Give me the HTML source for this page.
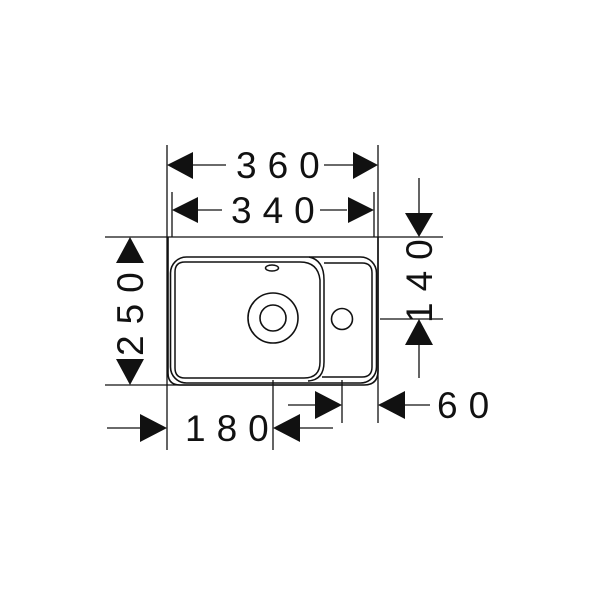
<!DOCTYPE html>
<html><head><meta charset="utf-8"><style>
html,body{margin:0;padding:0;background:#fff;}
svg{display:block;}
text{font-family:"Liberation Sans",sans-serif;font-size:37px;fill:#111;letter-spacing:11px;}
</style></head><body>
<svg width="600" height="600" viewBox="0 0 600 600" xmlns="http://www.w3.org/2000/svg">
<g stroke="#111" stroke-width="1.3" fill="none">
<!-- extension lines -->
<line x1="167" y1="145" x2="167" y2="450"/>
<line x1="172" y1="192" x2="172" y2="237"/>
<line x1="378" y1="145" x2="378" y2="423"/>
<line x1="374" y1="192" x2="374" y2="237"/>
<line x1="105" y1="237" x2="443" y2="237"/>
<line x1="105" y1="385" x2="343" y2="385"/>
<line x1="380" y1="319" x2="443" y2="319"/>
<line x1="273" y1="380" x2="273" y2="450"/>
<line x1="342" y1="380" x2="342" y2="423"/>
<!-- dim lines -->
<line x1="193" y1="165" x2="226" y2="165"/>
<line x1="324" y1="165" x2="353" y2="165"/>
<line x1="198" y1="210" x2="222" y2="210"/>
<line x1="320" y1="210" x2="347" y2="210"/>
<line x1="419" y1="178" x2="419" y2="213"/>
<line x1="419" y1="345" x2="419" y2="378"/>
<line x1="107" y1="428" x2="140" y2="428"/>
<line x1="300" y1="428" x2="333" y2="428"/>
<line x1="288" y1="405" x2="315" y2="405"/>
<line x1="405" y1="405" x2="430" y2="405"/>
<!-- sink body -->
<path d="M168,237 V373 Q168,385 180,385 H364 Q378,385 378,371 V237" stroke-width="1.6"/>
<rect x="170.5" y="257" width="206" height="126" rx="16" stroke-width="1.6"/>
<path d="M185,262 H300 Q318,262 320,280 V362 Q320,378 304,378 H185 Q175,378 175,368 V272 Q175,262 185,262 Z" stroke-width="1.5"/>
<path d="M309,257 Q324,260 324,280 V362 Q324,380 308,381" stroke-width="1.5"/>
<path d="M324,263 H362 Q372,263 372,273 V367 Q372,377 362,377 H322" stroke-width="1.5"/>
<circle cx="273" cy="318" r="25" stroke-width="1.6"/>
<circle cx="273" cy="318" r="13" stroke-width="1.6"/>
<circle cx="342" cy="319" r="10.5" stroke-width="1.6"/>
<ellipse cx="272" cy="268" rx="6.5" ry="3" stroke-width="1.5"/>
</g>
<g fill="#111">
<polygon points="167,165 193,152 193,179"/>
<polygon points="378,165 353,152 353,179"/>
<polygon points="172,210 198,197 198,223"/>
<polygon points="374,210 348,197 348,223"/>
<polygon points="130,237 116,263 144,263"/>
<polygon points="130,385 116,359 144,359"/>
<polygon points="419,237 405,213 433,213"/>
<polygon points="419,319 405,345 433,345"/>
<polygon points="167,428 140,414 140,442"/>
<polygon points="273,428 300,414 300,442"/>
<polygon points="342,405 315,391 315,419"/>
<polygon points="378,405 405,391 405,419"/>
</g>
<text x="236" y="178">360</text>
<text x="231" y="223">340</text>
<text x="185" y="441">180</text>
<text x="437" y="418">60</text>
<text transform="translate(143,356) rotate(-90)">250</text>
<text transform="translate(432,323) rotate(-90)">140</text>
</svg>
</body></html>
